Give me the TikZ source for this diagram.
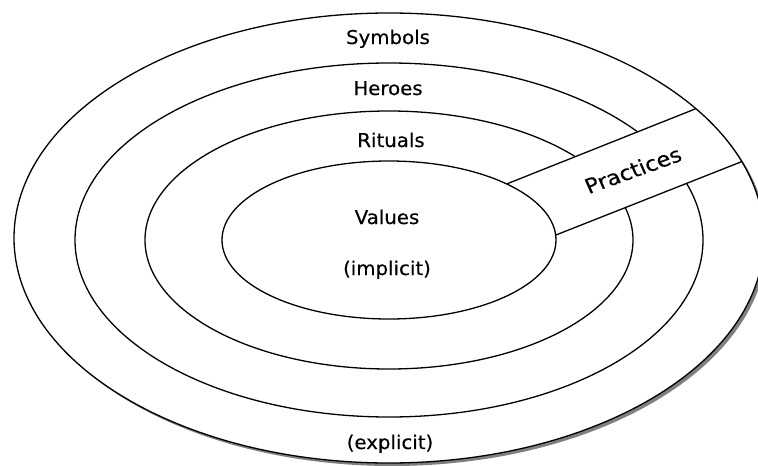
\documentclass[tikz,border=0pt]{standalone}
\usepackage{fontspec}
\setmainfont{DejaVu Sans}
\newfontfamily\ringfont{DejaVu Sans}[FakeBold=0.35]
\usetikzlibrary{intersections,calc}
\begin{document}
\begin{tikzpicture}[x=1pt,y=-1pt,
  ring/.style={draw=black,line width=1.3pt},
  lbl/.style={font=\ringfont\fontsize{19}{22}\selectfont,inner sep=0pt,xscale=1.04,anchor=base},
  bandlbl/.style={font=\ringfont\fontsize{20.5}{24}\selectfont,inner sep=0pt,xscale=1.1}]
\useasboundingbox (0,0) rectangle (758,466);
\coordinate (c) at (389,240);
\coordinate (oc) at (389,238);
% drop shadow of the outermost ring
\fill[black!50] ($(oc)+(3,3)$) ellipse [x radius=375pt,y radius=225pt];
\path[name path=outer,fill=white] (oc) ellipse [x radius=375pt,y radius=225pt];
% middle rings
\draw[ring] (c) ellipse [x radius=314pt,y radius=177pt];
\draw[ring] (c) ellipse [x radius=244pt,y radius=129pt];
% the band that cuts through the rings
\path[name path=inner] (c) ellipse [x radius=167pt,y radius=79pt];
\path[name path=upper] (450,206.5) -- (800,67.2);
\path[name path=lower] (500,257.1) -- (800,138.6);
\path[name intersections={of=upper and inner,by=ui}];
\path[name intersections={of=upper and outer,by=uo}];
\path[name intersections={of=lower and inner,by=li}];
\path[name intersections={of=lower and outer,by=lo}];
\fill[white] (ui) -- (uo) -- (lo) -- (li) -- cycle;
\draw[ring] (ui) -- (uo);
\draw[ring] (li) -- (lo);
\draw[ring] (c) ellipse [x radius=167pt,y radius=79pt];
\draw[ring] (oc) ellipse [x radius=375pt,y radius=225pt];
% labels
\node[lbl] (sym) at (388,44) {Symbols};
\node[lbl] (her) at (388,95) {Heroes};
\node[lbl] (rit) at (391,147) {Rituals};
\node[lbl] (val) at (387,224) {Values};
\node[lbl] (imp) at (387,275) {(implicit)};
\node[lbl] (exp) at (390,449) {(explicit)};
\node[bandlbl,rotate=21.7] (pra) at (633,170) {Practices};
\end{tikzpicture}
\end{document}
